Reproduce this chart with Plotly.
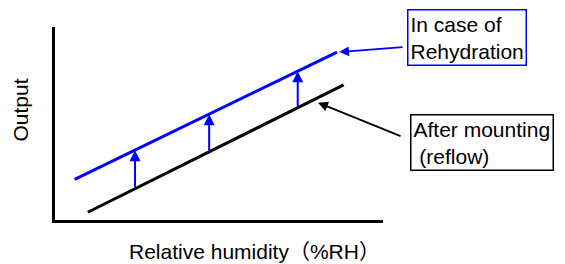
import numpy as np
import plotly.graph_objects as go

# Schematic data (arbitrary units, 0-100 scale)
rehydration_x = [6, 86]
rehydration_y = [21, 87]
reflow_x = [10, 88]
reflow_y = [4, 70]
shift_x = [24.4, 47, 74]          # positions of the upward shift arrows
x_title = "Relative humidity（%RH）"
y_title = "Output"
rehyd_label = "In case of<br>Rehydration"
reflow_label = "After mounting<br>\u00a0(reflow)"

BLUE = "#0000ff"
FONT = "Liberation Sans, Arial, Noto Sans CJK JP, sans-serif"
FS = 21

OFF = 8  # page body margin
W, H = 565 - OFF, 264 - OFF
L, T = 55 - OFF, 27 - OFF
pw, ph = 383 - 55, 220 - 27
R, B = W - L - pw, H - T - ph

def px2paper(px, py):
    px, py = px - OFF, py - OFF
    return (px - L) / pw, (T + ph - py) / ph

fig = go.Figure()
fig.add_trace(go.Scatter(x=rehydration_x, y=rehydration_y, mode="lines",
                         line=dict(color=BLUE, width=3), hoverinfo="skip"))
fig.add_trace(go.Scatter(x=reflow_x, y=reflow_y, mode="lines",
                         line=dict(color="black", width=3), hoverinfo="skip"))

ann = []
for sx in shift_x:
    y0 = float(np.interp(sx, reflow_x, reflow_y))
    y1 = float(np.interp(sx, rehydration_x, rehydration_y))
    ann.append(dict(x=sx, y=y1, ax=sx, ay=y0, xref="x", yref="y", axref="x", ayref="y",
                    text="", showarrow=True, arrowhead=2, arrowsize=1.1, arrowwidth=2,
                    arrowcolor=BLUE, standoff=0))

# callout arrows
ann.append(dict(x=rehydration_x[-1] + 0.6, y=rehydration_y[-1], xref="x", yref="y",
                ax=65, ay=-5, text="", showarrow=True, arrowhead=2, arrowsize=1.1,
                arrowwidth=1.8, arrowcolor=BLUE, standoff=0))
ann.append(dict(x=80.2, y=60.8, xref="x", yref="y",
                ax=84, ay=34, text="", showarrow=True, arrowhead=2, arrowsize=1.1,
                arrowwidth=1.8, arrowcolor="black", standoff=0))

# text boxes
bx, by = px2paper(407, 9)
ann.append(dict(x=bx, y=by, xref="paper", yref="paper", xanchor="left", yanchor="top",
                text=rehyd_label, align="left", showarrow=False,
                font=dict(family=FONT, size=FS, color="black"),
                bordercolor=BLUE, borderwidth=1.5, borderpad=2, bgcolor="white"))
bx, by = px2paper(410, 114)
ann.append(dict(x=bx, y=by, xref="paper", yref="paper", xanchor="left", yanchor="top",
                text=reflow_label, align="left", showarrow=False,
                font=dict(family=FONT, size=FS, color="black"),
                bordercolor="black", borderwidth=1.5, borderpad=2, bgcolor="white"))

# axis titles
tx, ty = px2paper(248, 250)
ann.append(dict(x=tx, y=ty, xref="paper", yref="paper", text=x_title, showarrow=False,
                xshift=6, yshift=-15, font=dict(family=FONT, size=FS, color="black")))
tx, ty = px2paper(23, 110)
ann.append(dict(x=tx, y=ty, xref="paper", yref="paper", text=y_title, showarrow=False,
                xshift=-17, textangle=-90, font=dict(family=FONT, size=FS, color="black")))

fig.update_layout(
    width=W, height=H, margin=dict(l=L, r=R, t=T, b=B),
    paper_bgcolor="white", plot_bgcolor="white", showlegend=False,
    annotations=ann,
    xaxis=dict(range=[0, 100], showline=True, linecolor="black", linewidth=2.5,
               showgrid=False, zeroline=False, showticklabels=False, ticks=""),
    yaxis=dict(range=[0, 100], showline=True, linecolor="black", linewidth=2.5,
               showgrid=False, zeroline=False, showticklabels=False, ticks=""),
)
fig.write_html("out.html")
